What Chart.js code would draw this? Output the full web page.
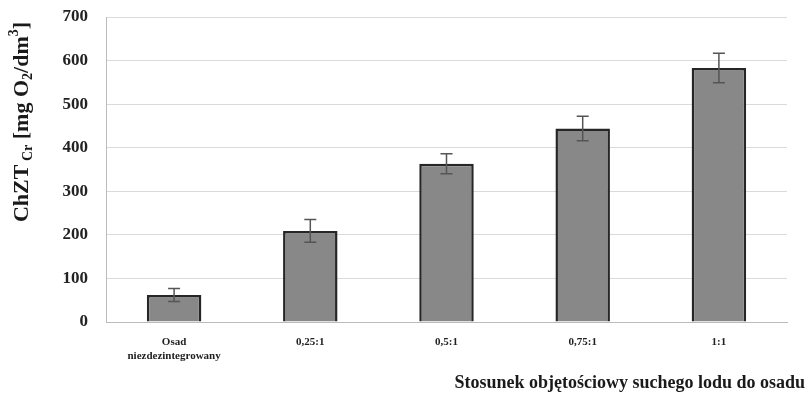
<!DOCTYPE html>
<html><head><meta charset="utf-8">
<script src="https://cdn.jsdelivr.net/npm/chart.js@4"></script>
<style>html,body{margin:0;padding:0;background:#fff}#w{width:808px;height:396px}</style>
</head><body><div id="w"><canvas id="c" width="808" height="396"></canvas></div>
<script>
const categories = [["Osad","niezdezintegrowany"], "0,25:1", "0,5:1", "0,75:1", "1:1"];
const values = [62, 209, 363, 444, 583];
const errors = [15, 26, 23, 28, 34];
const yTicks = [0, 100, 200, 300, 400, 500, 600, 700];
const xTitle = "Stosunek objętościowy suchego lodu do osadu";

const errPlugin = {
  id: 'err',
  afterDatasetsDraw(chart) {
    const ctx = chart.ctx, meta = chart.getDatasetMeta(0), y = chart.scales.y;
    ctx.save();
    ctx.strokeStyle = '#555'; ctx.lineWidth = 1.5;
    meta.data.forEach((b, i) => {
      const x = b.x, t = y.getPixelForValue(values[i] + errors[i]), bt = y.getPixelForValue(values[i] - errors[i]);
      ctx.beginPath();
      ctx.moveTo(x, t); ctx.lineTo(x, bt);
      ctx.moveTo(x - 6, t); ctx.lineTo(x + 6, t);
      ctx.moveTo(x - 6, bt); ctx.lineTo(x + 6, bt);
      ctx.stroke();
    });
    ctx.restore();
  }
};
const titlePlugin = {
  id: 'ytitle',
  afterDraw(chart) {
    const ctx = chart.ctx;
    ctx.save();
    ctx.fillStyle = '#1a1a1a';
    ctx.translate(22, 122);
    ctx.rotate(-Math.PI / 2);
    const big = 'bold 22px "Liberation Serif"', small = 'bold 14px "Liberation Serif"';
    const parts = [["ChZT", big, 0], [" Cr", small, 6], [" [mg O", big, 0], ["2", small, 6], ["/dm", big, 0], ["3", small, -8], ["]", big, 0]];
    let w = 0;
    parts.forEach(p => { ctx.font = p[1]; w += ctx.measureText(p[0]).width; });
    let x = -w / 2;
    ctx.textBaseline = 'middle';
    parts.forEach(p => { ctx.font = p[1]; ctx.fillText(p[0], x, p[2]); x += ctx.measureText(p[0]).width; });
    ctx.restore();
    ctx.save();
    ctx.fillStyle = '#1a1a1a';
    ctx.font = 'bold 18px "Liberation Serif"';
    ctx.textAlign = 'right'; ctx.textBaseline = 'middle';
    ctx.fillText(xTitle, 805, 383);
    ctx.restore();
  }
};

new Chart(document.getElementById('c'), {
  type: 'bar',
  data: {
    labels: categories,
    datasets: [{
      data: values,
      backgroundColor: (c) => {
        const ch = c.chart, a = ch.chartArea;
        if (!a) return '#888';
        const el = c.element;
        if (!el || !el.x) return '#888';
        const g = ch.ctx.createLinearGradient(el.x - el.width / 2, 0, el.x + el.width / 2, 0);
        g.addColorStop(0, '#747474'); g.addColorStop(0.5, '#8c8c8c'); g.addColorStop(1, '#747474');
        return g;
      },
      borderColor: '#262626',
      borderWidth: 2.5,
      barPercentage: 0.4,
      categoryPercentage: 1.0
    }]
  },
  options: {
    responsive: false,
    animation: false,
    devicePixelRatio: 1,
    layout: { padding: { left: 0, right: 21, top: 17, bottom: 0 } },
    plugins: { legend: { display: false }, tooltip: { enabled: false } },
    scales: {
      x: {
        grid: { display: false },
        border: { color: '#bbb', width: 1 },
        ticks: { color: '#222', font: { family: 'Liberation Serif', weight: 'bold', size: 11 }, maxRotation: 0, padding: 6 },
        afterFit(s) { s.height = 74; }
      },
      y: {
        min: 0, max: 700,
        afterBuildTicks(s) { s.ticks = yTicks.map(v => ({ value: v })); },
        grid: { color: '#dadada', lineWidth: 1, drawTicks: false },
        border: { color: '#bbb', width: 1 },
        ticks: { color: '#222', font: { family: 'Liberation Serif', weight: 'bold', size: 17 }, padding: 18 },
        afterFit(s) { s.width = 106; s.paddingTop = 0; s.paddingBottom = 0; }
      }
    }
  },
  plugins: [errPlugin, titlePlugin]
});
</script>
</body></html>
